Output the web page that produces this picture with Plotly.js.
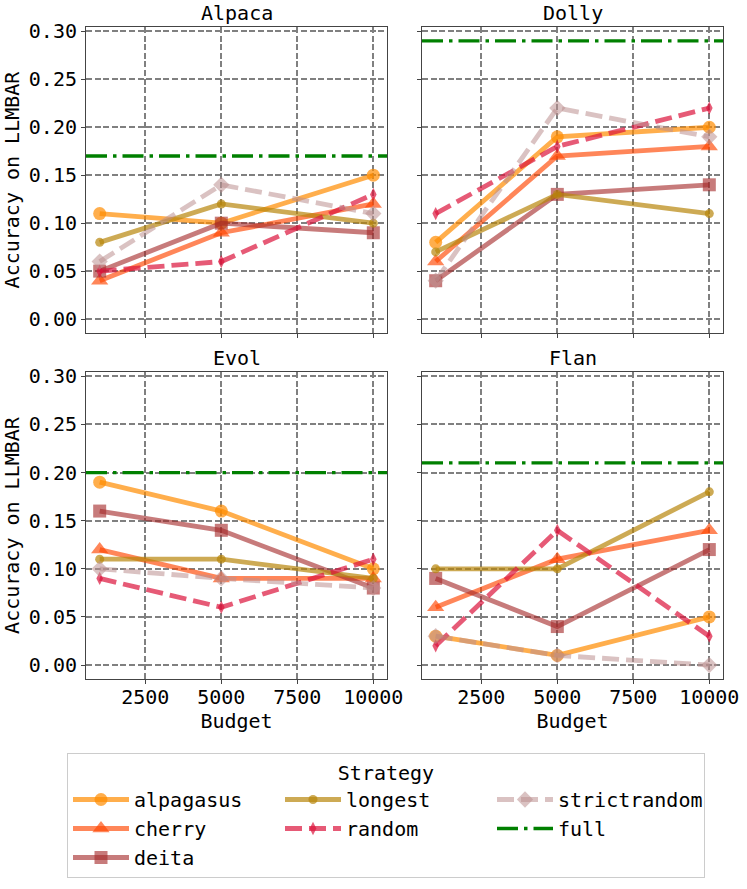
<!DOCTYPE html>
<html>
<head>
<meta charset="utf-8">
<script src="https://cdn.plot.ly/plotly-3.0.1.min.js"></script>
<style>
html, body {margin: 0; padding: 0; background: #fff;}
#chart {width: 747px; height: 889px;}
</style>
</head>
<body>
<div id="chart"></div>
<script>
// Budgets (x) and the four instruction datasets, one panel each.
var budgets = [1000, 5000, 10000];
var datasets = ['Alpaca', 'Dolly', 'Evol', 'Flan'];

// Accuracy on LLMBAR per strategy, one row per dataset (Alpaca, Dolly, Evol, Flan).
var alpagasus    = [[0.11, 0.10, 0.15], [0.08, 0.19, 0.20], [0.19, 0.16, 0.10], [0.03, 0.01, 0.05]];
var cherry       = [[0.04, 0.09, 0.12], [0.06, 0.17, 0.18], [0.12, 0.09, 0.09], [0.06, 0.11, 0.14]];
var deita        = [[0.05, 0.10, 0.09], [0.04, 0.13, 0.14], [0.16, 0.14, 0.08], [0.09, 0.04, 0.12]];
var longest      = [[0.08, 0.12, 0.10], [0.07, 0.13, 0.11], [0.11, 0.11, 0.09], [0.10, 0.10, 0.18]];
var random       = [[0.05, 0.06, 0.13], [0.11, 0.18, 0.22], [0.09, 0.06, 0.11], [0.02, 0.14, 0.03]];
var strictrandom = [[0.06, 0.14, 0.11], [0.04, 0.22, 0.19], [0.10, 0.09, 0.08], [0.03, 0.01, 0.00]];
// Full-data baseline per dataset (horizontal line).
var full = [0.17, 0.29, 0.20, 0.21];

var yticks = [0, 0.05, 0.10, 0.15, 0.20, 0.25, 0.30];
var xticks = [2500, 5000, 7500, 10000];

var FONT = 'DejaVu Sans Mono';

// style of each strategy (matplotlib-like colours with alpha)
// rank puts the legend in 3 columns filled top-down, like the original
var strategies = [
{name:'alpagasus', data:alpagasus, rank:1, color:'rgba(255,140,0,0.7)', symbol:'circle', size:13, dash:'solid'},
{name:'cherry', data:cherry, rank:4, color:'rgba(255,69,0,0.65)', symbol:'triangle-up', size:15, dash:'solid'},
{name:'deita', data:deita, rank:7, color:'rgba(165,42,42,0.62)', symbol:'square', size:13, dash:'solid'},
{name:'longest', data:longest, rank:2, color:'rgba(184,134,11,0.7)', symbol:'circle', size:9, dash:'solid'},
{name:'random', data:random, rank:5, color:'rgba(220,20,60,0.7)', symbol:'diamond-tall', size:9.5, dash:'17px,7px'},
{name:'strictrandom', data:strictrandom, rank:3, color:'rgba(188,143,143,0.55)', symbol:'diamond', size:12.5, dash:'17px,7px'}
];

var traces = [];
datasets.forEach(function(ds, i){
var sfx = i == 0 ? '' : String(i+1);
strategies.forEach(function(s){
traces.push({
x: budgets,
y: s.data[i],
name: s.name,
legendgroup: s.name,
legendrank: s.rank,
showlegend: i == 0,
type: 'scatter',
mode: 'lines+markers',
xaxis: 'x'+sfx,
yaxis: 'y'+sfx,
line: {color: s.color, width: 4.8, dash: s.dash},
marker: {color: s.color, symbol: s.symbol, size: s.size, line: {width: 0}},
hovertemplate: ds+' '+s.name+': %{y}<extra></extra>'
});
});
});
// legend entry for the full-data line (line itself is a shape)
traces.push({
x: [null], y: [null], name: 'full', legendrank: 6, type: 'scatter', mode: 'lines',
line: {color: '#008000', width: 3.3, dash: '21px,6px,3.5px,6px'}, showlegend: true
});

// panel positions in pixels (left, right, top, bottom)
var W = 747, H = 889;
var cols = [[86, 387], [422, 723]];
var rows = [[27, 333], [372, 679]];

function xAxis(c, r, anchor){
return {
domain: [cols[c][0]/W, cols[c][1]/W], anchor: anchor,
range: [550, 10450], tickvals: xticks, ticktext: xticks.map(String),
showticklabels: r == 1,
ticks: 'outside', ticklen: 4, tickcolor: '#444', tickwidth: 1,
showline: true, mirror: true, linecolor: '#444', linewidth: 1,
showgrid: true, gridcolor: '#808080', gridwidth: 1.6, griddash: '6px,2.6px',
zeroline: false, tickfont: {family: FONT, size: 20, color: '#000'},
ticklabelstandoff: -4,
title: r == 1 ? {text: 'Budget', font: {family: FONT, size: 20, color: '#000'}, standoff: 0} : {text: ''}
};
}
function yAxis(c, r, anchor){
return {
domain: [1-rows[r][1]/H, 1-rows[r][0]/H], anchor: anchor,
range: [-0.0145, 0.3045], tickvals: yticks, ticktext: yticks.map(function(v){return v.toFixed(2)}),
showticklabels: c == 0,
ticks: 'outside', ticklen: 4, tickcolor: '#444', tickwidth: 1,
showline: true, mirror: true, linecolor: '#444', linewidth: 1,
showgrid: true, gridcolor: '#808080', gridwidth: 1.6, griddash: '6px,2.6px',
zeroline: false, tickfont: {family: FONT, size: 20, color: '#000'},
ticklabelstandoff: 0,
title: c == 0 ? {text: 'Accuracy on LLMBAR', font: {family: FONT, size: 20, color: '#000'}, standoff: 6} : {text: ''}
};
}

var layout = {
width: W, height: H,
margin: {l: 0, r: 0, t: 0, b: 0},
paper_bgcolor: '#fff', plot_bgcolor: '#fff',
font: {family: FONT, size: 20, color: '#000'},
showlegend: true,
legend: {
orientation: 'h', traceorder: 'normal', tracegroupgap: 0,
x: 67/W, xanchor: 'left', y: 1-753/H, yanchor: 'top',
entrywidth: 141, itemwidth: 56,
bordercolor: '#ccc', borderwidth: 1, bgcolor: '#fff',
font: {family: FONT, size: 20, color: '#000'},
title: {text: 'Strategy', side: 'top center', font: {family: FONT, size: 20, color: '#000'}}
},
annotations: [],
shapes: []
};

datasets.forEach(function(ds, i){
var c = i % 2, r = Math.floor(i / 2);
var sfx = i == 0 ? '' : String(i+1);
layout['xaxis'+sfx] = xAxis(c, r, 'y'+sfx);
layout['yaxis'+sfx] = yAxis(c, r, 'x'+sfx);
layout.annotations.push({
text: ds, xref: 'x'+sfx+' domain', yref: 'y'+sfx+' domain', x: 0.5, y: 1,
xanchor: 'center', yanchor: 'bottom', yshift: 0, showarrow: false,
font: {family: FONT, size: 20, color: '#000'}
});
layout.shapes.push({
type: 'line', xref: 'x'+sfx+' domain', yref: 'y'+sfx, x0: 0, x1: 1, y0: full[i], y1: full[i],
line: {color: '#008000', width: 3.3, dash: '21px,6px,3.5px,6px'}
});
});

Plotly.newPlot('chart', traces, layout, {displayModeBar: false, responsive: false});
</script>
</body>
</html>
